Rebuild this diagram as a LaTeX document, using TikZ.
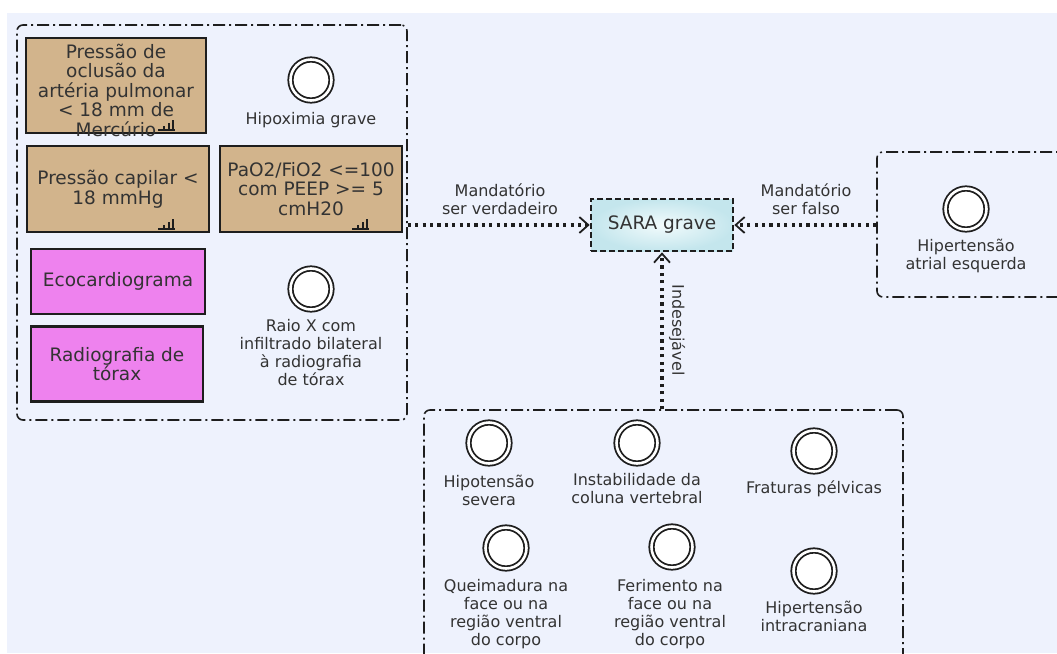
\documentclass[tikz,border=0pt]{standalone}
\usepackage{fontspec}
\setmainfont{DejaVu Sans}
\usetikzlibrary{arrows.meta}
\definecolor{bgc}{RGB}{238,242,253}
\definecolor{ink}{RGB}{30,30,30}
\definecolor{txt}{RGB}{51,51,51}
\definecolor{tanbox}{RGB}{210,180,140}
\definecolor{violetbox}{RGB}{238,130,238}
\definecolor{saraout}{RGB}{196,230,237}
\definecolor{sarain}{RGB}{242,251,252}
\tikzset{
  grp/.style={draw=ink, line width=1.6pt, rounded corners=6pt,
    dash pattern=on 12pt off 4pt on 2pt off 4pt, inner sep=0pt},
  goalbox/.style={draw=ink, line width=2.6pt, align=center, inner sep=0pt,
    text=txt, font=\fontsize{18.5}{19.5}\selectfont},
  tanb/.style={goalbox, fill=tanbox},
  violetb/.style={goalbox, fill=violetbox},
  evt/.style={circle, draw=ink, fill=white, line width=1.8pt, double=white,
    double distance=2.6pt, minimum size=41pt, inner sep=0pt},
  lbl/.style={align=center, text=txt, inner sep=0pt,
    font=\fontsize{16}{18}\selectfont},
  conn/.style={draw=ink, line width=3.2pt, dash pattern=on 3.2pt off 4.2pt,
    -{Straight Barb[length=9pt,width=16pt,line width=1.8pt]}},
  barsicon/.pic={
    \fill[ink] (-4,0) rectangle (13,-1.8);
    \fill[ink] (1,0) rectangle (3.2,-5);
    \fill[ink] (5.5,0) rectangle (7.7,-8);
    \fill[ink] (10,0) rectangle (12.2,-11);
  }
}
\begin{document}
\begin{tikzpicture}[x=1pt,y=-1pt]
\useasboundingbox (0,0) rectangle (1057,653);
\clip (0,0) rectangle (1057,653);
\fill[bgc] (7,13) rectangle (1057,653);

% left group: requirements
\node[grp, minimum width=390pt, minimum height=395pt] (lg) at (212,222.5) {};
\node[tanb, minimum width=180pt, minimum height=95pt] (b1) at (116,85.5) {};
\node[lbl, font=\fontsize{18.5}{19.5}\selectfont] (b1t) at (116,90)
  {Pressão de\\oclusão da\\artéria pulmonar\\< 18 mm de\\Mercúrio};
\pic at (162,131) {barsicon};
\node[tanb, minimum width=182pt, minimum height=86pt] (b2) at (118,189)
  {Pressão capilar <\\18 mmHg};
\pic at (162,230) {barsicon};
\node[tanb, minimum width=182pt, minimum height=86pt] (b3) at (311,189)
  {PaO2/FiO2 <=100\\com PEEP >= 5\\cmH20};
\pic at (356,230) {barsicon};
\node[violetb, minimum width=174pt, minimum height=65pt] (b4) at (118,281.5)
  {Ecocardiograma};
\node[violetb, minimum width=172pt, minimum height=75pt] (b5) at (117,364)
  {Radiografia de\\tórax};
\node[evt] (e1) at (311,80) {};
\node[lbl] (e1t) at (311,120) {Hipoximia grave};
\node[evt] (e2) at (311,289) {};
\node[lbl] (e2t) at (311,353)
  {Raio X com\\infiltrado bilateral\\à radiografia\\de tórax};

% central goal
\node[draw=ink, line width=2.6pt, dash pattern=on 6pt off 3pt,
  minimum width=142pt, minimum height=52pt, inner sep=0pt,
  inner color=sarain, outer color=saraout, text=txt,
  font=\fontsize{18.5}{20}\selectfont] (sara) at (662,225) {SARA grave};

% right group: contradicting condition
\node[grp, minimum width=203pt, minimum height=145pt] (rg) at (978.5,224.5) {};
\node[evt] (e3) at (966,209) {};
\node[lbl] (e3t) at (966,256) {Hipertensão\\atrial esquerda};

% bottom group: undesired conditions
\node[grp, minimum width=479pt, minimum height=280pt] (bg) at (663.5,550) {};
\node[evt] (u1) at (489,443) {};
\node[lbl] (u1t) at (489,490) {Hipotensão\\severa};
\node[evt] (u2) at (637,443) {};
\node[lbl] (u2t) at (637,489) {Instabilidade da\\coluna vertebral};
\node[evt] (u3) at (814,451) {};
\node[lbl] (u3t) at (814,489) {Fraturas pélvicas};
\node[evt] (u4) at (506,548) {};
\node[lbl] (u4t) at (506,614) {Queimadura na\\face ou na\\região ventral\\do corpo};
\node[evt] (u5) at (672,547) {};
\node[lbl] (u5t) at (670,614) {Ferimento na\\face ou na\\região ventral\\do corpo};
\node[evt] (u6) at (814,571) {};
\node[lbl] (u6t) at (814,616) {Hipertensão\\intracraniana};

% connectors
\draw[conn] (sara.west -| lg.east) -- (sara.west);
\draw[conn] (sara.east -| rg.west) -- (sara.east);
\draw[conn] (sara.south |- bg.north) -- (sara.south);
\node[lbl] (l1) at (500,199) {Mandatório\\ser verdadeiro};
\node[lbl] (l2) at (806,199) {Mandatório\\ser falso};
\node[lbl, rotate=-90] (l3) at (677,330) {Indesejável};
\end{tikzpicture}
\end{document}
